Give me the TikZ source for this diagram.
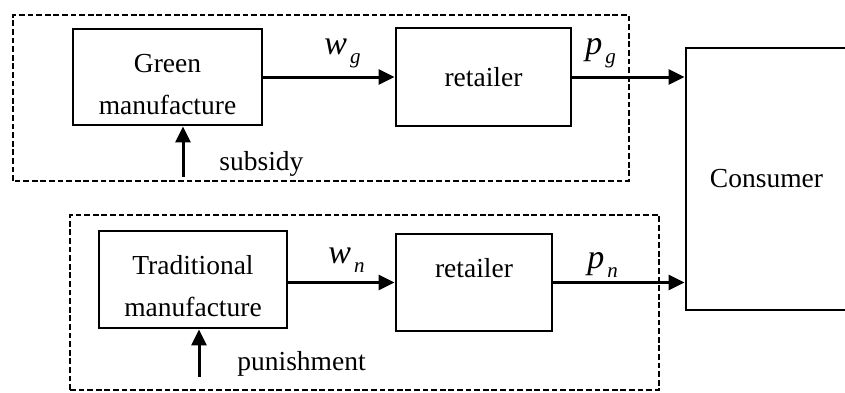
\documentclass[tikz,border=0pt]{standalone}
\usepackage{fontspec}
\setmainfont{Liberation Serif}
\usepackage{tikz}
\usetikzlibrary{arrows.meta}
\tikzset{block/.style={draw,line width=1.4pt,rectangle,align=center,
                       inner sep=0pt}}
\tikzset{group/.style={draw,line width=1.2pt,dash pattern=on 2.9pt off 1.4pt}}
\tikzset{lbl/.style={anchor=base west,inner sep=0pt}}
\newcommand{\pricelbl}[2]{{\fontsize{17}{17}\selectfont\itshape #1}%
  \hspace{1.5pt}\raisebox{-4.5pt}{\fontsize{10.5}{10.5}\selectfont\itshape #2}}

\begin{document}
\begin{tikzpicture}[x=0.5pt,y=0.5pt,>={Triangle[length=8pt,width=7.5pt]},
    font=\fontsize{13.75}{21}\selectfont]
  \clip (0,0) rectangle (845,392);

  % The two dashed frames round each chain
  \draw[group] (13,211) rectangle (629,377);
  \draw[group] (70,2) rectangle (659,177);

  % First chain: green product
  \node (green) [block,minimum width=94.5pt,minimum height=48pt]
      at (167.5,315) {\rule{0pt}{17pt}Green\\manufacture};
  \node (ret_g) [block,minimum width=87.5pt,minimum height=49pt]
      at (483.5,315) {retailer};

  % Second chain: traditional product
  \node (trad)  [block,minimum width=94pt,minimum height=48.5pt]
      at (193,112.5) {\rule{0pt}{16.5pt}Traditional\\manufacture};
  \node (ret_n) [block,minimum width=78pt,minimum height=48.5pt]
      at (474,109.5) {\rule[-15pt]{0pt}{15pt}retailer};

  % Both chains sell to the same consumer
  \node (cons)  [block,minimum width=80.5pt,minimum height=131pt]
      at (766.5,213) {Consumer};

  % Policy inputs from below
  \coordinate (sub_in) at (183,215);
  \coordinate (pun_in) at (199,15);

  % Prices along the chains
  \path[->,line width=1.5pt]
      (green) edge (ret_g)
      (ret_g) edge (cons.west |- ret_g)
      (trad.east |- ret_n) edge (ret_n)
      (ret_n) edge (cons.west |- ret_n)
      (sub_in) edge (sub_in |- green.south)
      (pun_in) edge (pun_in |- trad.south);

  % Labels
  \node (w_g) [lbl] at (324,337) {\pricelbl{w}{g}};
  \node (p_g) [lbl] at (585,337) {\pricelbl{p}{g}};
  \node (w_n) [lbl] at (328,129) {\pricelbl{w}{n}};
  \node (p_n) [lbl] at (587,124) {\pricelbl{p}{n}};
  \node (subsidy) [lbl] at (219,222) {subsidy};
  \node (punish)  [lbl] at (237,22) {punishment};
\end{tikzpicture}
\end{document}
